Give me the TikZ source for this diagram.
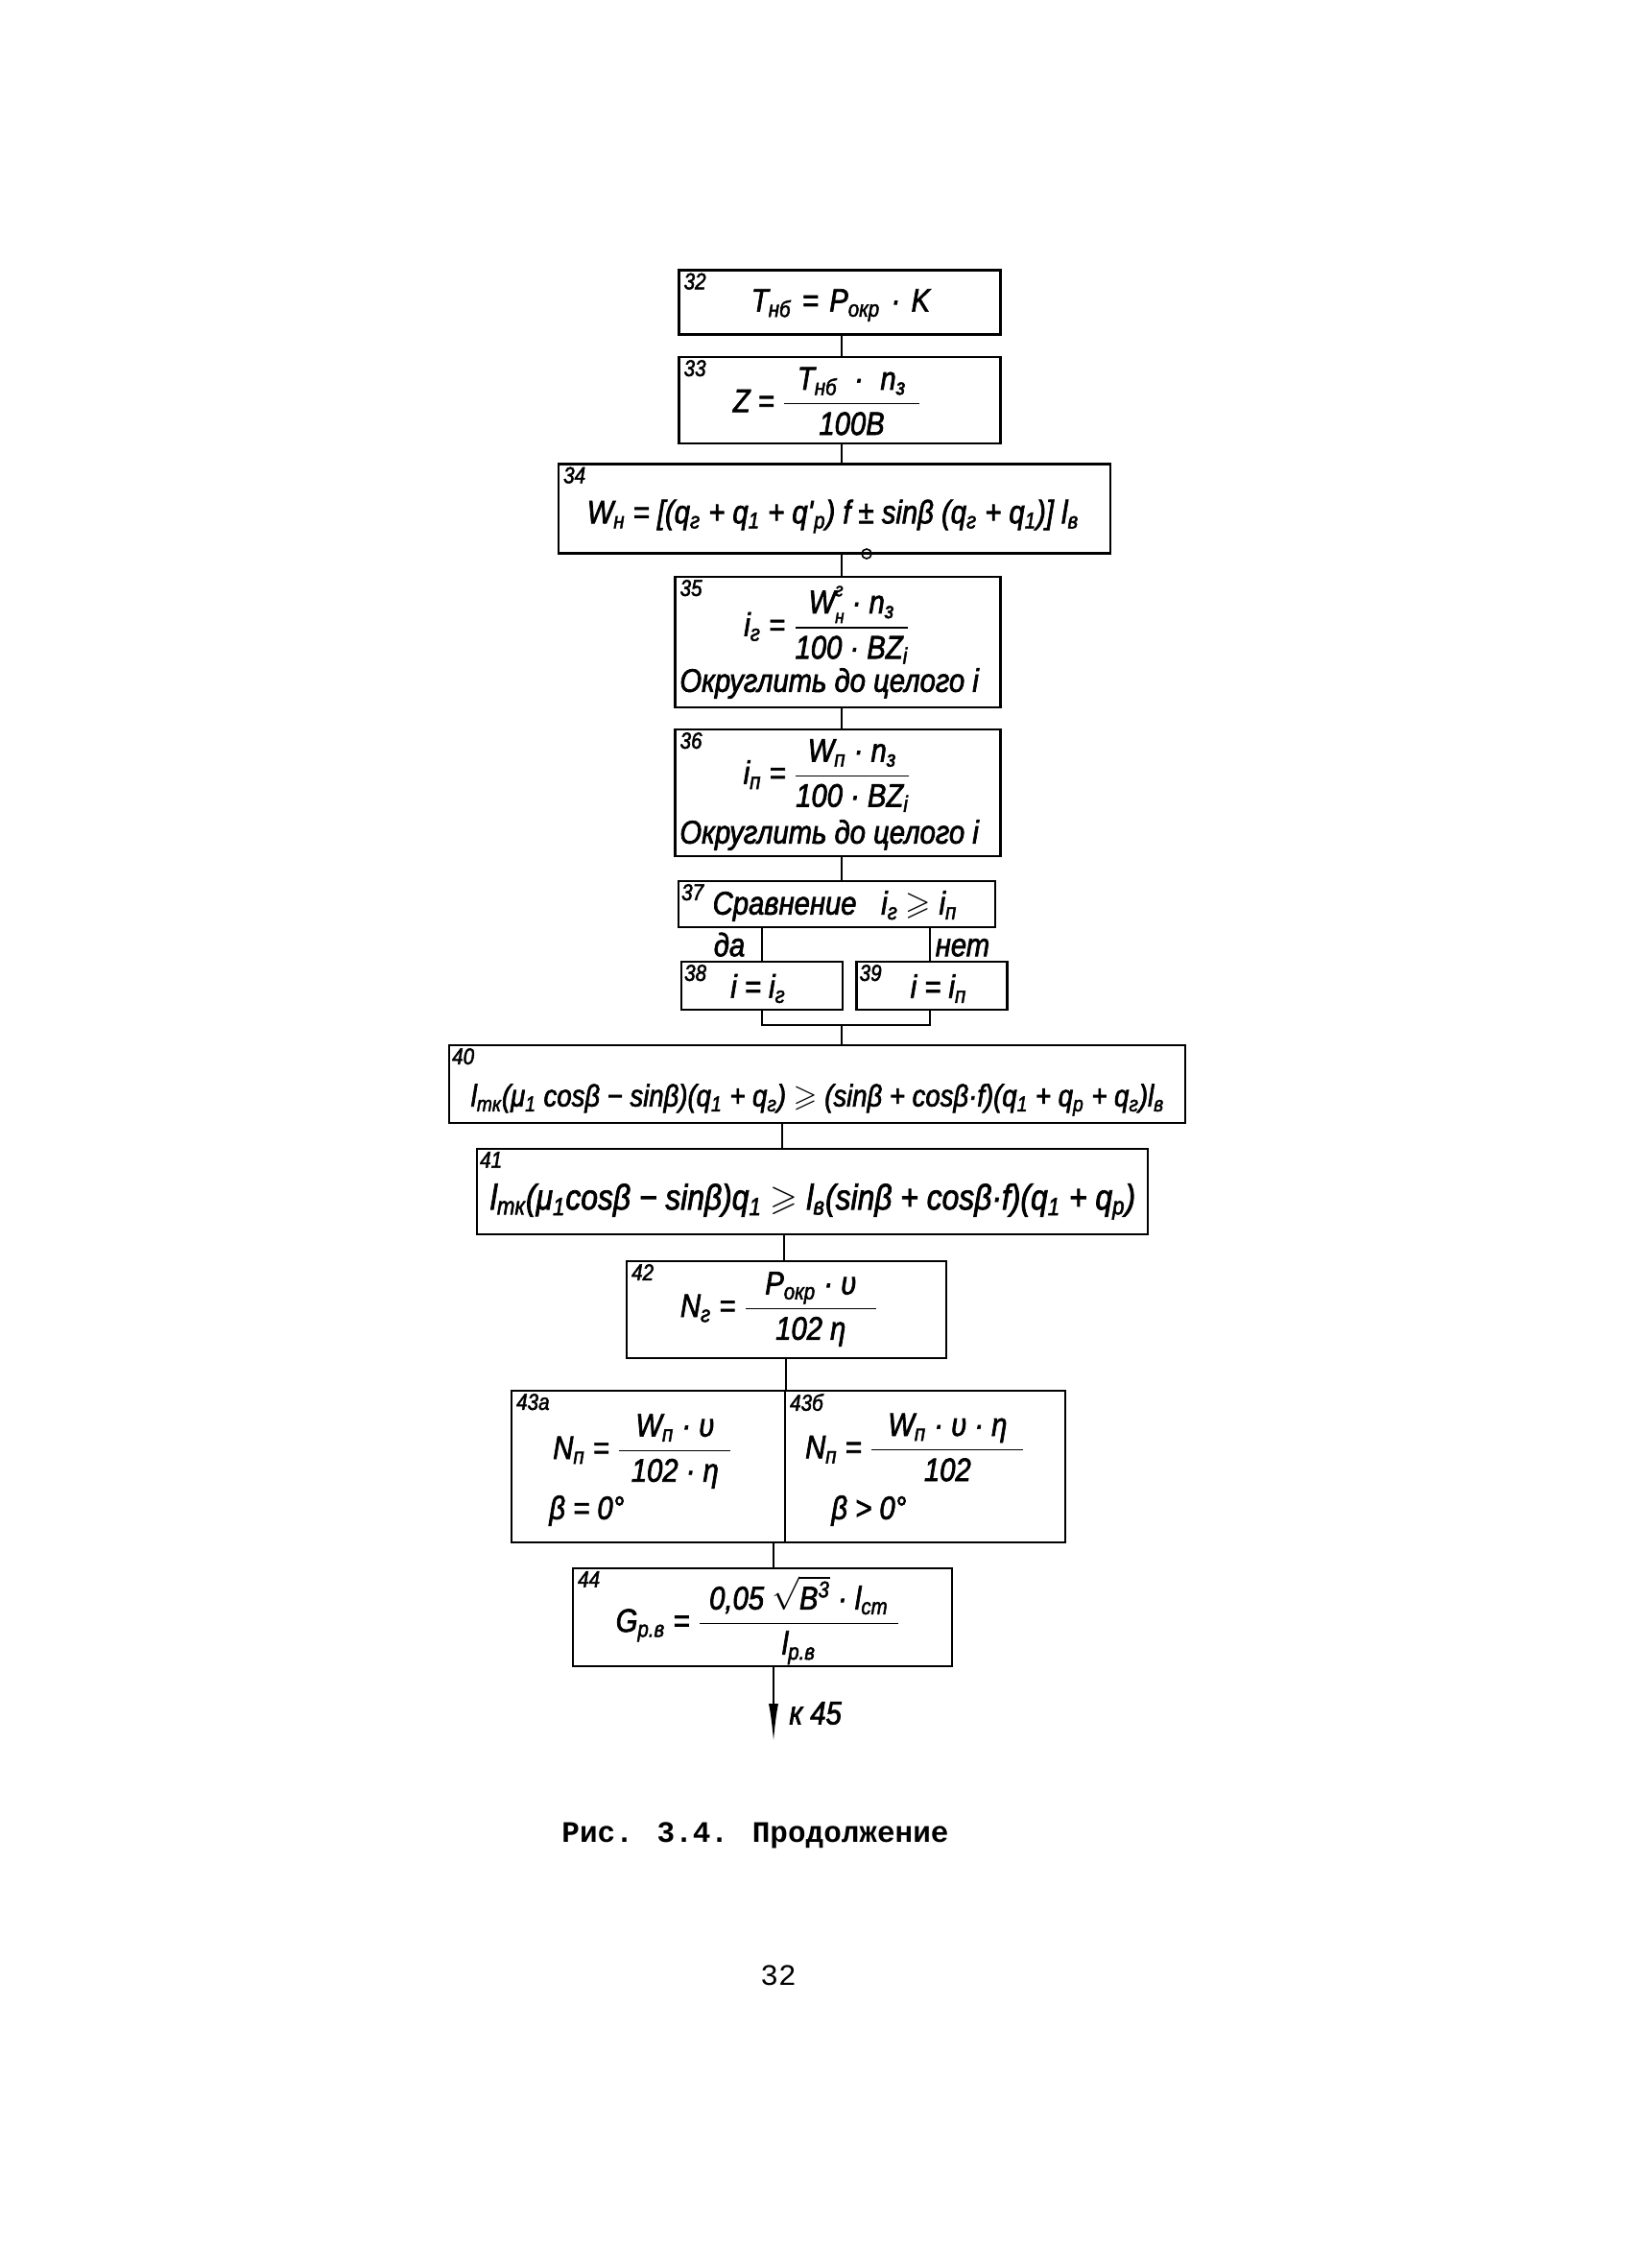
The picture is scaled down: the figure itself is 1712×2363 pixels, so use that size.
\documentclass[tikz,border=0pt]{standalone}
\usepackage{amsmath,amssymb}
\usepackage{fontspec}
\setmainfont{Liberation Sans}[FakeStretch=0.86,ItalicFeatures={FakeBold=2}]
\newfontfamily\capfont{Liberation Mono}
\usetikzlibrary{arrows.meta}
\newcommand\fr[3][0.25em]{\ensuremath{\dfrac{\mbox{\hspace{#1}#2\hspace{#1}}}{\mbox{#3}}}}
\newcommand\sbs[1]{\textsubscript{#1}}
\newcommand\sps[1]{\textsuperscript{#1}}
\newcommand\gsl{\ensuremath{\geqslant}}
\tikzset{
  box/.style={draw, line width=1.25pt, inner sep=0pt},
  num/.style={anchor=north west, inner sep=0pt, font=\fontsize{12}{14}\selectfont\itshape},
  frm/.style={inner sep=0pt, font=\fontsize{17}{20}\selectfont\itshape},
  lnk/.style={line width=1.1pt},
}
\begin{document}
\begin{tikzpicture}[x=0.5pt,y=-0.5pt]
\useasboundingbox (0,0) rectangle (1712,2363);
% boxes
\node[box, minimum width=167.5pt, minimum height=33.5pt] (b32) at (875,315) {};
\node[box, minimum width=167.5pt, minimum height=45pt] (b33) at (875,417) {};
\node[box, minimum width=287.5pt, minimum height=46.5pt] (b34) at (869.5,530) {};
\node[box, minimum width=169.5pt, minimum height=68pt] (b35) at (873,669) {};
\node[box, minimum width=169.5pt, minimum height=66pt] (b36) at (873,826) {};
\node[box, minimum width=165pt, minimum height=24pt] (b37) at (872,942) {};
\node[box, minimum width=84pt, minimum height=25pt] (b38) at (794,1027) {};
\node[box, minimum width=78.5pt, minimum height=25pt] (b39) at (971,1027) {};
\node[box, minimum width=383.5pt, minimum height=40.5pt] (b40) at (851.5,1129.5) {};
\node[box, minimum width=349.5pt, minimum height=44.5pt] (b41) at (846.5,1241.5) {};
\node[box, minimum width=166.5pt, minimum height=50.5pt] (b42) at (819.5,1364.5) {};
\node[box, minimum width=142.5pt, minimum height=79pt] (b43a) at (675.5,1528) {};
\node[box, minimum width=146pt, minimum height=79pt] (b43b) at (964,1528) {};
\node[box, minimum width=197.5pt, minimum height=51pt] (b44) at (794.5,1685) {};
% numbers
\node[num] (n32) at ([shift={(3pt,-2pt)}]b32.north west) {32};
\node[num] (n33) at ([shift={(3pt,-2pt)}]b33.north west) {33};
\node[num] (n34) at ([shift={(3pt,-2pt)}]b34.north west) {34};
\node[num] (n35) at ([shift={(3pt,-2pt)}]b35.north west) {35};
\node[num] (n36) at ([shift={(3pt,-2pt)}]b36.north west) {36};
\node[num] (n37) at ([shift={(2pt,-2pt)}]b37.north west) {37};
\node[num] (n38) at ([shift={(2pt,-2pt)}]b38.north west) {38};
\node[num] (n39) at ([shift={(2pt,-2pt)}]b39.north west) {39};
\node[num] (n40) at ([shift={(2pt,-2pt)}]b40.north west) {40};
\node[num] (n41) at ([shift={(2pt,-2pt)}]b41.north west) {41};
\node[num] (n42) at ([shift={(3pt,-2pt)}]b42.north west) {42};
\node[num] (n43a) at ([shift={(3pt,-2pt)}]b43a.north west) {43а};
\node[num] (n43b) at ([shift={(3pt,-2pt)}]b43b.north west) {43б};
\node[num] (n44) at ([shift={(3pt,-2pt)}]b44.north west) {44};
% formulas
\node[frm] (f32) at (876,318) {T\sbs{нб}\,\,=\,\,P\sbs{окр}\,\,·\,\,K};
\node[frm] (f33) at (862,418) {Z = \fr[0.4em]{T\sbs{нб} \;·\; n\sbs{з}}{100B}};
\node[frm] (f34) at (868,538) {W\sbs{н} = [(q\sbs{г} + q\sbs{1} + q\textquotesingle\sbs{р}) f ± sinβ (q\sbs{г} + q\sbs{1})] l\sbs{в}};
\node[frm] (f35) at (862,651) {i\sbs{г} = \fr{W\rlap{\raisebox{0.52em}{\fontsize{10}{10}\selectfont г}}\raisebox{-0.3em}{\fontsize{10}{10}\selectfont н} · n\sbs{з}}{100 · BZ\sbs{i}}};
\node[frm, anchor=west] (t35) at (708,712) {Округлить до целого i};
\node[frm] (f36) at (862,808) {i\sbs{п} = \fr{W\sbs{п} · n\sbs{з}}{100 · BZ\sbs{i}}};
\node[frm, anchor=west] (t36) at (708,870) {Округлить до целого i};
\node[frm] (f37) at (870,944) {Сравнение \; i\sbs{г} \gsl{} i\sbs{п}};
\node[frm] (f38) at (790,1030) {i = i\sbs{г}};
\node[frm] (f39) at (978,1030) {i = i\sbs{п}};
\node[frm, font=\fontsize{16}{19}\selectfont\itshape] (f40) at (852,1146) {l\sbs{тк}(μ\sbs{1} cosβ − sinβ)(q\sbs{1} + q\sbs{г}) \gsl{} (sinβ + cosβ·f)(q\sbs{1} + q\sbs{р} + q\sbs{г})l\sbs{в}};
\node[frm, font=\fontsize{18.5}{21}\selectfont\itshape] (f41) at (847,1252) {l\sbs{тк}(μ\sbs{1}cosβ − sinβ)q\sbs{1} \gsl{} l\sbs{в}(sinβ + cosβ·f)(q\sbs{1} + q\sbs{р})};
\node[frm] (f42) at (812,1364) {N\sbs{г} = \fr[0.6em]{P\sbs{окр} · υ}{102 η}};
\node[frm] (f43a) at (670,1512) {N\sbs{п} = \fr[0.5em]{W\sbs{п} · υ}{102 · η}};
\node[frm, anchor=west] (g43a) at (572,1574) {β = 0°};
\node[frm] (f43b) at (954,1508) {N\sbs{п} = \fr[0.5em]{W\sbs{п} · υ · η}{102}};
\node[frm, anchor=west] (g43b) at (866,1574) {β > 0°};
\node[frm] (f44) at (790,1688) {G\sbs{р.в} = \fr[0.3em]{0,05 $\sqrt{\mbox{B\sps{3}}}$ · l\sbs{ст}}{l\sbs{р.в}}};
% labels
\node[frm, anchor=south] (da) at (760,997) {да};
\node[frm, anchor=south] (net) at (1003,997) {нет};
% connectors
\coordinate (cA) at (877,0);
\coordinate (cN) at (969,0);
\coordinate (m) at (877,1068);
\coordinate (c40) at (815,0);
\coordinate (c41) at (817,0);
\coordinate (c43) at (806,0);
\coordinate (end) at (806,1815);
\draw[lnk] (b32.south -| cA) -- (b33.north -| cA);
\draw[lnk] (b33.south -| cA) -- (b34.north -| cA);
\draw[lnk] (b34.south -| cA) -- (b35.north -| cA);
\draw[lnk] (b35.south -| cA) -- (b36.north -| cA);
\draw[lnk] (b36.south -| cA) -- (b37.north -| cA);
\draw[lnk] (b38.north) -- (b38.north |- b37.south);
\draw[lnk] (b39.north -| cN) -- (b37.south -| cN);
\draw[lnk] (b38.south) -- (b38.south |- m) -- (m -| cN) -- (b39.south -| cN);
\draw[lnk] (m) -- (b40.north -| m);
\draw[lnk] (b40.south -| c40) -- (b41.north -| c40);
\draw[lnk] (b41.south -| c41) -- (b42.north -| c41);
\draw[lnk] (b42.south -| b43a.north east) -- (b43a.north east);
\draw[lnk] (b43a.south -| c43) -- (b44.north -| c43);
\draw[lnk, -{Latex[length=20pt,width=5pt]}] (b44.south -| end) -- (end);
\node[draw, circle, line width=0.8pt, inner sep=0pt, minimum size=5pt] (dot) at (903,577) {};
\node[frm, anchor=west] (k45) at (822,1785) {к 45};
% caption
\node[inner sep=0pt, font=\capfont\bfseries\fontsize{15.5}{18}\selectfont] (cap) at (787,1912) {Рис. 3.4. Продолжение};
\node[inner sep=0pt, font=\capfont\fontsize{15.5}{18}\selectfont] (page) at (811,2058) {32};
\end{tikzpicture}
\end{document}
